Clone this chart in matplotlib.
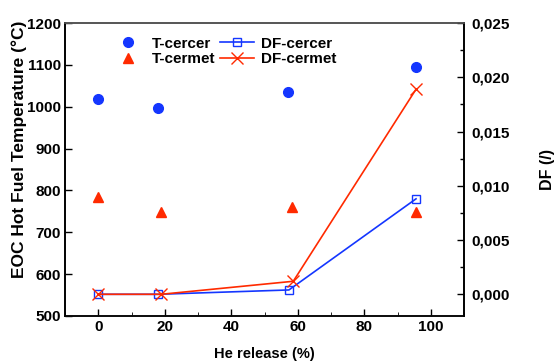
import matplotlib
matplotlib.use("Agg")
import matplotlib.pyplot as plt
from matplotlib.ticker import MultipleLocator, FuncFormatter

plt.rcParams['font.family'] = ['Liberation Sans', 'DejaVu Sans']
plt.rcParams['font.weight'] = 'bold'

x_tcercer = [0, 18, 57, 95.5]
t_cercer = [1018, 998, 1035, 1094]
x_tcermet = [0, 18.8, 58.3, 95.5]
t_cermet = [785, 748, 761, 749]
x_dfcercer = [0, 18, 57.3, 95.5]
df_cercer = [0.0, 0.0, 0.0004, 0.0088]
x_dfcermet = [0, 18.9, 58.6, 95.5]
df_cermet = [0.0, 0.0, 0.0012, 0.0189]

blue = '#1436ff'
red = '#ff2a00'

fig = plt.figure(figsize=(5.56, 3.63), dpi=100)
ax = fig.add_axes([0.117, 0.1295, 0.718, 0.807])
ax2 = ax.twinx()

h1, = ax.plot(x_tcercer, t_cercer, 'o', color=blue, ms=7, linestyle='none', label='T-cercer')
h2, = ax.plot(x_tcermet, t_cermet, '^', color=red, ms=7, linestyle='none', label='T-cermet')
h3, = ax2.plot(x_dfcercer, df_cercer, '-s', color=blue, mfc='none', mec=blue, ms=6, lw=1.2, label='DF-cercer')
h4, = ax2.plot(x_dfcermet, df_cermet, '-x', color=red, ms=8, lw=1.2, label='DF-cermet')

ax.set_xlim(-10, 110)
ax.set_ylim(500, 1200)
ax2.set_ylim(-0.002, 0.025)

ax.xaxis.set_major_locator(MultipleLocator(20))
ax.xaxis.set_minor_locator(MultipleLocator(10))
ax.yaxis.set_major_locator(MultipleLocator(100))
ax2.yaxis.set_major_locator(MultipleLocator(0.005))
ax2.yaxis.set_minor_locator(MultipleLocator(0.0025))
ax2.yaxis.set_major_formatter(FuncFormatter(lambda v, p: f"{v:.3f}".replace('.', ',')))

ax.tick_params(axis='both', direction='in', labelsize=11, length=5, width=1, pad=3)
ax.tick_params(axis='x', which='minor', direction='in', length=3)
ax.tick_params(top=False)
ax2.tick_params(axis='y', which='both', direction='in', labelsize=11, width=1, pad=5)
ax2.tick_params(axis='y', which='major', length=5)
ax2.tick_params(axis='y', which='minor', length=3)

for a in (ax, ax2):
    for lbl in a.get_xticklabels() + a.get_yticklabels():
        lbl.set_fontweight('bold')
    for s in a.spines.values():
        s.set_linewidth(1.2)
ax.spines['top'].set_color('#555555')
ax2.spines['top'].set_color('#555555')
ax.spines['bottom'].set_color('#444444')

ax.set_xlabel('He release (%)', fontsize=10.5, fontweight='bold', labelpad=9)
ax.set_ylabel('EOC Hot Fuel Temperature (°C)', fontsize=12.5, fontweight='bold')
ax.yaxis.set_label_coords(-0.095, 0.57)
ax2.set_ylabel('DF (/)', fontsize=11.5, fontweight='bold', labelpad=22)

leg = ax.legend(handles=[h1, h2, h3, h4], ncol=2, loc='upper left', bbox_to_anchor=(0.08, 1.0),
                frameon=False, fontsize=11, handlelength=2.2, handletextpad=0.5,
                columnspacing=0.3, labelspacing=0.1)

fig.savefig('out.png', dpi=100)
